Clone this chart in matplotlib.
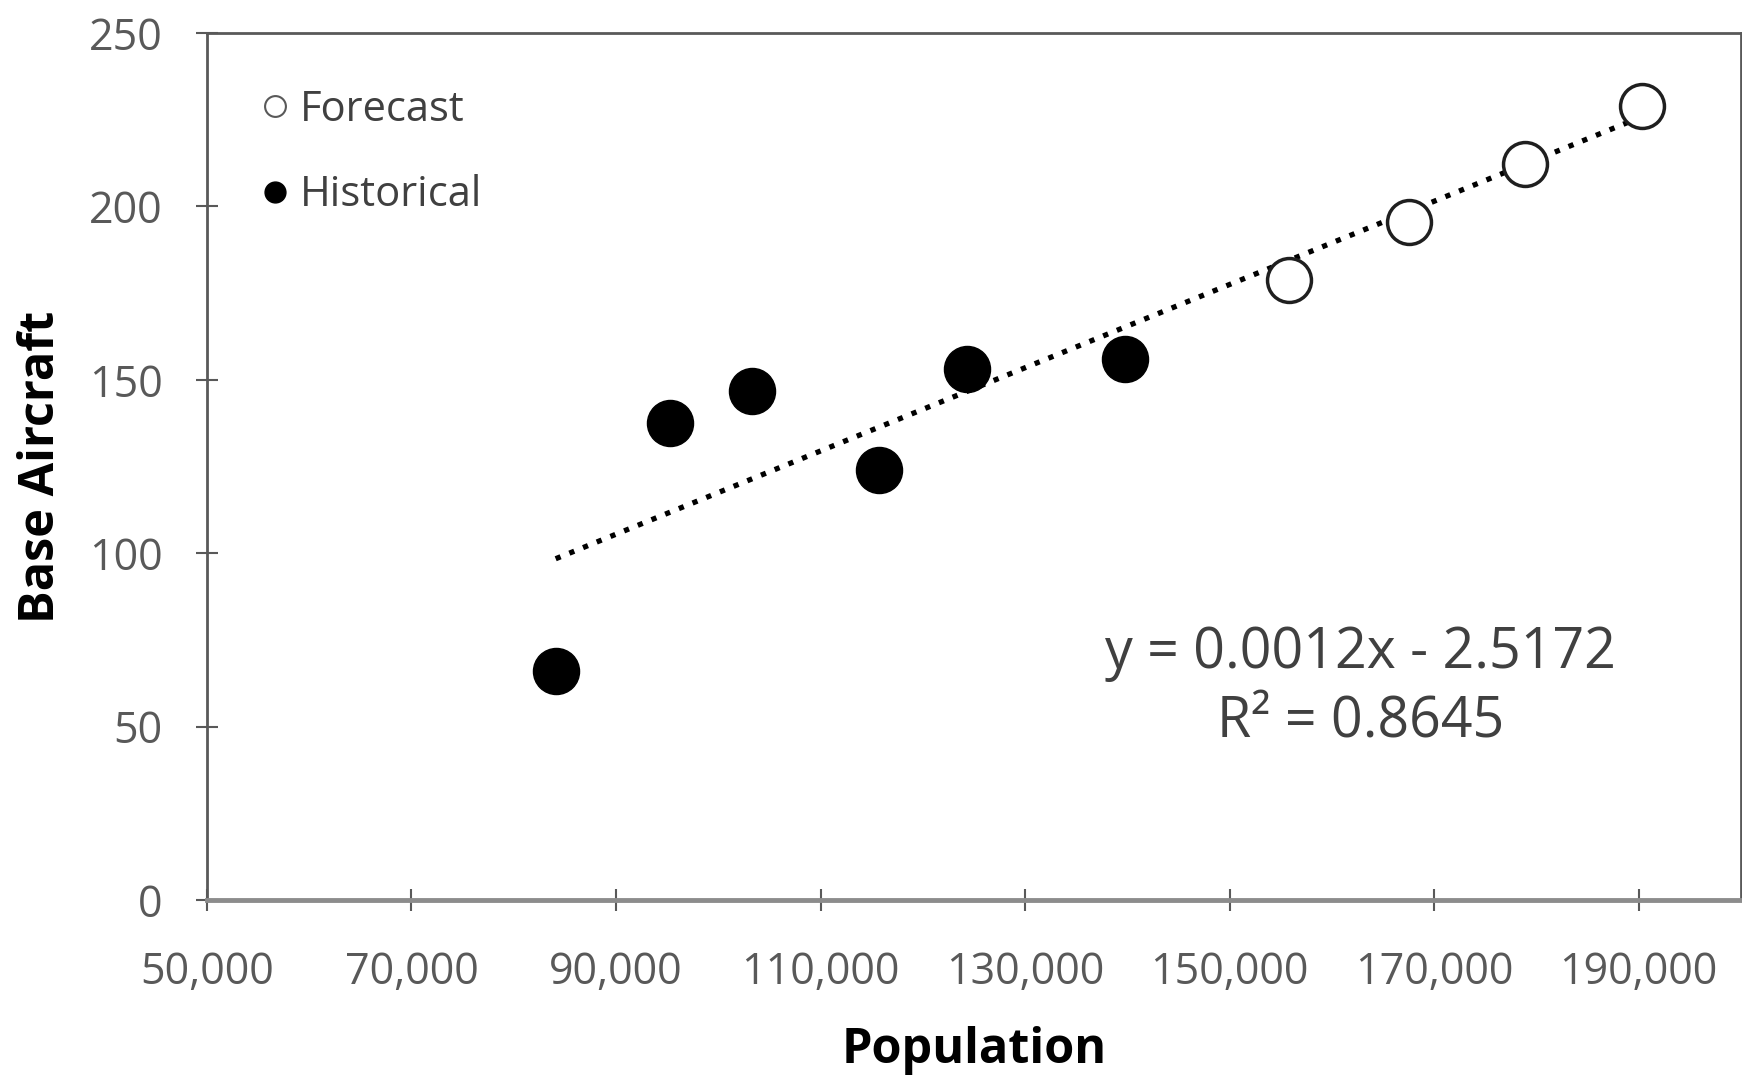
import numpy as np
import matplotlib
matplotlib.use("Agg")
import matplotlib.pyplot as plt
from matplotlib.lines import Line2D
from matplotlib.ticker import FuncFormatter

# historical observations
hist_pop = [84100, 95300, 103300, 115700, 124300, 139800]
hist_aircraft = [66.0, 137.5, 146.8, 124.0, 153.2, 156.1]
# forecast points
fc_pop = [155800, 167500, 178900, 190300]
fc_aircraft = [178.8, 195.5, 212.2, 228.8]
# linear trend as printed on chart
slope, intercept, r2 = 0.0012, -2.5172, 0.8645

plt.rcParams["font.family"] = ["Open Sans", "DejaVu Sans"]
GREY = "#595959"

fig = plt.figure(figsize=(17.42, 10.81), dpi=100)
ax = fig.add_axes([0.1188, 0.1674, 0.8806, 0.8021])

x0, x1 = min(hist_pop), max(fc_pop)
tx = np.array([x0, x1])
ax.plot(tx, slope * tx + intercept, color="black", lw=3.8, ls=(0, (1, 1.8)), zorder=1)

ax.scatter(hist_pop, hist_aircraft, s=1100, color="black", zorder=3)
ax.scatter(fc_pop, fc_aircraft, s=1000, facecolor="white", edgecolor="#1f1f1f", lw=2.5, zorder=3)

ax.set_xlim(50000, 200000)
ax.set_ylim(0, 250)
ax.set_xticks(range(50000, 200001, 20000))
ax.set_yticks(range(0, 251, 50))
ax.xaxis.set_major_formatter(FuncFormatter(lambda v, p: f"{int(v):,}"))
ax.tick_params(direction="inout", length=16, width=1.5, color=GREY, labelsize=31,
               labelcolor=GREY)
ax.tick_params(axis="x", pad=28)
ax.tick_params(axis="y", pad=24)
for s in ax.spines.values():
    s.set_color(GREY)
    s.set_linewidth(2)
ax.spines["bottom"].set_color("#8c8c8c")
ax.spines["bottom"].set_linewidth(3.5)

ax.set_xlabel("Population", fontsize=35, fontweight="bold", va="center")
ax.set_ylabel("Base Aircraft", fontsize=35, fontweight="bold", va="center")
ax.xaxis.set_label_coords(0.5, -0.174)
ax.yaxis.set_label_coords(-0.108, 0.5)

handles = [Line2D([], [], ls="none", marker="o", ms=15, mfc="white", mec=GREY, mew=1.5),
           Line2D([], [], ls="none", marker="o", ms=15, mfc="black", mec="black")]
ax.legend(handles, ["Forecast", "Historical"], loc="upper left", bbox_to_anchor=(0.024, 0.955),
          frameon=False, fontsize=30, labelcolor="#404040", handlelength=0.7,
          handletextpad=0.25, labelspacing=1.05, borderaxespad=0)

ax.text(0.752, 0.244, f"y = {slope}x - {abs(intercept)}\nR\u00b2 = {r2}", transform=ax.transAxes,
        ha="center", va="center", fontsize=40, color="#404040", linespacing=1.3,
        multialignment="center")

fig.savefig("out.png", dpi=100)
